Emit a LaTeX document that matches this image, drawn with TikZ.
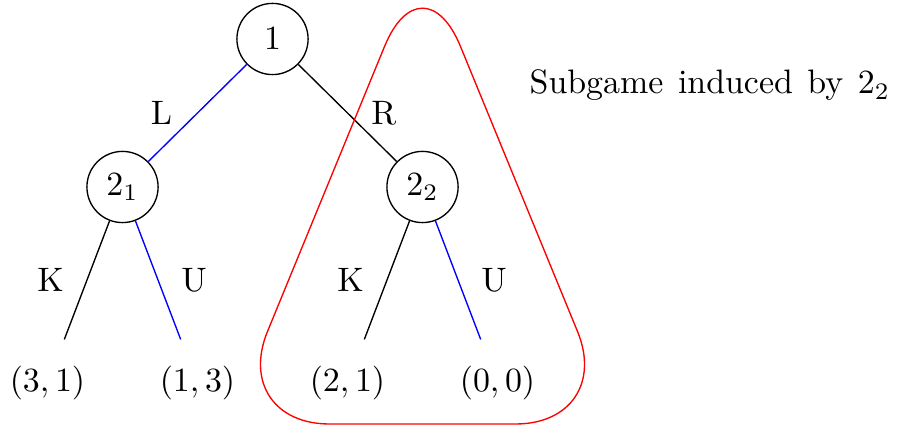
\documentclass[tikz,border=0pt]{standalone}
\begin{document}
\begin{tikzpicture}[x=0.295pt,y=-0.295pt,
  player/.style={draw,circle,minimum size=21pt,inner sep=0pt},
  leaf/.style={rectangle,minimum height=25.6pt,inner sep=2pt},
  lab/.style={midway,inner sep=0pt},
  subgame/.style={draw=red,rounded corners=29.5pt}]
\useasboundingbox (0,0) rectangle (897,427);
\node[player] (n1) at (272.5,39) {$1$};
\node[player] (n21) at (122.5,187) {$2_1$};
\node[player] (n22) at (422.5,187) {$2_2$};
\node[leaf] (l1) at (47.5,383.5) {$(3,1)$};
\node[leaf] (l2) at (197.5,383.5) {$(1,3)$};
\node[leaf] (l3) at (347.5,383.5) {$(2,1)$};
\node[leaf] (l4) at (497.5,383.5) {$(0,0)$};
\draw[blue] (n1) -- (n21) node[lab,xshift=-10.6pt] (lL) {\textcolor{black}{L}};
\draw (n1) -- (n22) node[lab,xshift=10.7pt] (lR) {R};
\draw (n21) -- (l1) node[lab,xshift=-10.7pt] (lK1) {K};
\draw[blue] (n21) -- (l2) node[lab,xshift=10.6pt] (lU1) {\textcolor{black}{U}};
\draw (n22) -- (l3) node[lab,xshift=-10.7pt] (lK2) {K};
\draw[blue] (n22) -- (l4) node[lab,xshift=10.6pt] (lU2) {\textcolor{black}{U}};
\coordinate (apex) at (422.5,-46);
\coordinate (bl) at (229.5,424);
\coordinate (br) at (615.5,424);
\draw[subgame] (apex) -- (bl) -- (br) -- cycle;
\node[anchor=base west,inner sep=0pt] (title) at (529,94) {Subgame\hspace{4.3pt}induced\hspace{4.3pt}by\hspace{4.3pt}$2_2$};
\end{tikzpicture}
\end{document}
